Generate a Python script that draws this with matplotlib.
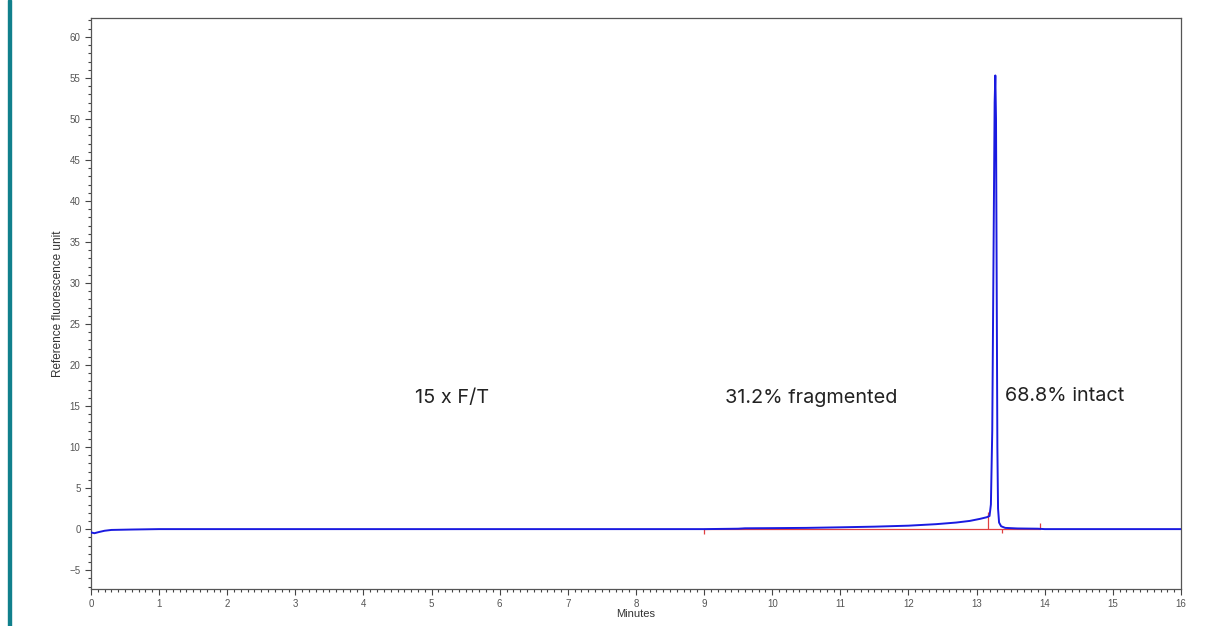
import matplotlib.pyplot as plt
from matplotlib.ticker import MultipleLocator
from matplotlib.patches import Rectangle

# trace (minutes, RFU)
trace_t = [0.0, 0.05, 0.12, 0.2, 0.3, 0.6, 1.0, 5.0, 9.0, 9.5, 9.6, 10.0, 10.5,
           11.0, 11.5, 12.0, 12.4, 12.7, 12.9, 13.05, 13.15, 13.19, 13.21, 13.23,
           13.25, 13.265, 13.275, 13.285, 13.295, 13.305, 13.315, 13.33, 13.36,
           13.42, 13.6, 13.9, 14.0, 16.0]
trace_y = [-0.4, -0.5, -0.35, -0.2, -0.1, -0.05, 0.0, 0.0, 0.0, 0.05, 0.1, 0.12, 0.15,
           0.22, 0.3, 0.42, 0.6, 0.8, 1.0, 1.25, 1.45, 1.6, 3.0, 12.0,
           35.0, 52.0, 55.3, 50.0, 30.0, 10.0, 2.5, 0.8, 0.35,
           0.15, 0.08, 0.05, 0.0, 0.0]

# integration baseline and event marks
base_t = [9.0, 13.93]
mark_t = [9.0, 13.17, 13.38, 13.93]
mark_lo = [-0.6, 0.0, -0.5, 0.0]
mark_hi = [0.0, 2.1, 0.0, 0.7]

labels = ["15 x F/T", "31.2% fragmented", "68.8% intact"]
label_x = [4.76, 9.30, 13.42]
label_y = [16.0, 16.0, 16.2]

fig = plt.figure(figsize=(12.11, 6.26), dpi=100)
ax = fig.add_axes([0.0751, 0.0591, 0.9001, 0.9121])

ax.plot(base_t, [0, 0], color='#e04040', lw=0.9, zorder=2)
ax.vlines(mark_t, mark_lo, mark_hi, color='#e04040', lw=0.9, zorder=2)
ax.plot(trace_t, trace_y, color='#1a1ae0', lw=1.4, zorder=3)

for txt, x, y in zip(labels, label_x, label_y):
    ax.text(x, y, txt, fontsize=14.3, family='Inter', color='#222222', va='center', ha='left')

ax.set_xlim(0, 16)
ax.set_ylim(-7.3, 62.3)
ax.xaxis.set_major_locator(MultipleLocator(1))
ax.xaxis.set_minor_locator(MultipleLocator(0.1))
ax.yaxis.set_major_locator(MultipleLocator(5))
ax.yaxis.set_minor_locator(MultipleLocator(1))
ax.tick_params(which='major', length=4, width=0.8, labelsize=7, colors='#444444', labelcolor='#555555')
ax.tick_params(which='minor', length=2, width=0.8, colors='#444444')
for lab in ax.get_xticklabels() + ax.get_yticklabels():
    lab.set_family('Liberation Sans')
for s in ax.spines.values():
    s.set_color('#555555')
    s.set_linewidth(0.9)

ax.set_xlabel('Minutes', fontsize=8, family='Liberation Sans', labelpad=0, color='#333333')
ax.set_ylabel('Reference fluorescence unit', fontsize=8.5, family='Liberation Sans', labelpad=4,
              color='#333333')

# teal strip on the left edge of the slide
fig.patches.append(Rectangle((0.0066, 0), 0.0025, 1, transform=fig.transFigure,
                             color='#11808c', zorder=5))

fig.savefig('out.png', dpi=100)
